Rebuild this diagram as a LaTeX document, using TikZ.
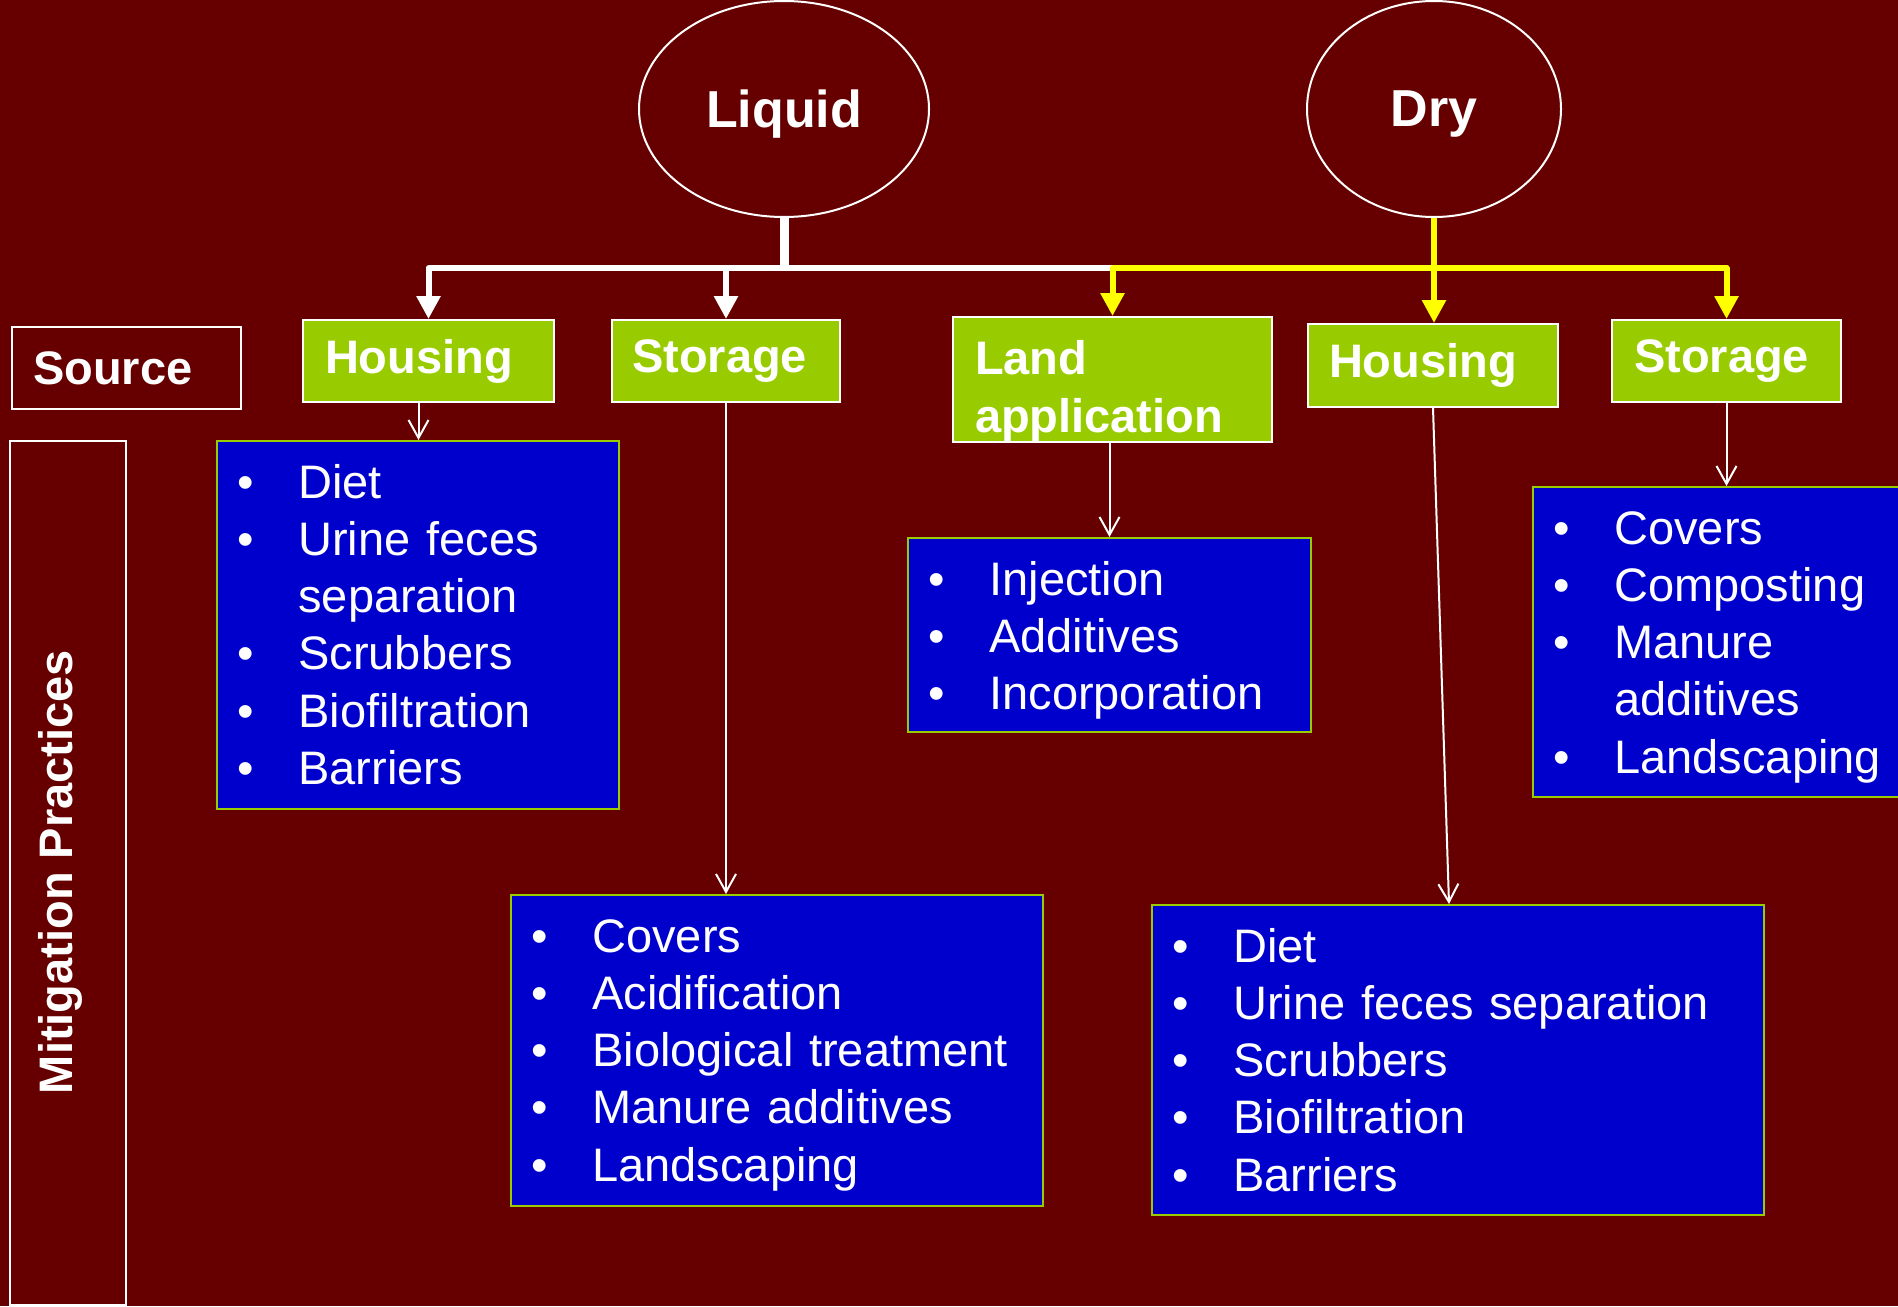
\documentclass[tikz,border=0pt]{standalone}
\usepackage{fontspec}
\setmainfont{Liberation Sans}
\usetikzlibrary{arrows.meta,shapes.geometric,fit}
\definecolor{bgred}{HTML}{660000}
\definecolor{lgreen}{HTML}{99CC00}
\definecolor{lblue}{HTML}{0000CC}
\definecolor{ylw}{HTML}{FFFF00}
\newcommand{\lbul}{\makebox[30.5pt][l]{•}}
\newcommand{\indentitem}{\hspace*{30.5pt}}
\begin{document}
\begin{tikzpicture}[x=0.5pt,y=-0.5pt,
  ovalnode/.style={ellipse, draw=white, line width=1pt, minimum width=145pt, minimum height=108pt, inner sep=0pt, text depth=0pt, text=white, font=\bfseries\fontsize{26}{30}\selectfont},
  titlebox/.style={draw=white, fill=lgreen, line width=1pt, inner sep=0pt, text=white, align=left, font=\bfseries\fontsize{23.5}{29}\selectfont},
  labelbox/.style={draw=white, line width=1pt, inner sep=0pt, text=white, align=left, font=\bfseries\fontsize{23.5}{29}\selectfont},
  listbox/.style={draw=lgreen, fill=lblue, line width=1pt, inner sep=0pt},
  listtext/.style={text=white, inner sep=0pt, align=left, text width=280pt, anchor=base west, font=\fontsize{23.5}{28.65}\selectfont},
  bus/.style={line width=3pt, white, line join=round},
  ybus/.style={line width=3pt, ylw, line join=round},
  tiparr/.style={-{Triangle[width=11.5pt,length=11.5pt]}},
  thinarr/.style={white, line width=1pt, -{Straight Barb[width=10pt,length=9pt]}}
]
\fill[bgred] (0,0) rectangle (1898,1306);
\useasboundingbox (0,0) rectangle (1898,1306);
\clip (0,0) rectangle (1898,1306);

% ovals
\node[ovalnode] (liq) at (784,109) {Liquid};
\node[ovalnode, minimum width=127pt] (dry) at (1434,109) {Dry};

% row labels
\node[labelbox, minimum width=114.5pt, minimum height=41pt, text width=93.5pt] (src) at (126.5,368) {Source};
\node[labelbox, fit={(10,441)(126,1305)}] (mit) {};
\node[text=white, inner sep=0pt, rotate=90, font=\bfseries\fontsize{23.5}{29}\selectfont] (mitt) at (60,872) {Mitigation Practices};

% source boxes
\node[titlebox, minimum width=125.5pt, minimum height=41pt, text width=103.5pt] (LH) at (428.5,361) {Housing};
\node[titlebox, minimum width=114pt, minimum height=41pt, text width=94pt] (LS) at (726,361) {Storage};
\node[titlebox, minimum width=159.5pt, minimum height=62.5pt, text width=137.5pt, text depth=22pt] (Land) at (1112.5,379.5) {Land\\application};
\node[titlebox, minimum width=125pt, minimum height=41.5pt, text width=104pt] (DH) at (1433,365.5) {Housing};
\node[titlebox, minimum width=114.5pt, minimum height=41pt, text width=92.5pt] (DS) at (1726.5,361) {Storage};

% mitigation boxes
\node[listbox, fit={(217,441)(619,809)}] (LHl) {};
\node[listbox, fit={(511,895)(1043,1206)}] (LSl) {};
\node[listbox, fit={(908,538)(1311,732)}] (Landl) {};
\node[listbox, fit={(1152,905)(1764,1215)}] (DHl) {};
\node[listbox, fit={(1533,487)(1930,797)}] (DSl) {};

\node[listtext] (LHt) at (237,498) {\lbul Diet\\ \lbul Urine feces\\ \indentitem separation\\ \lbul Scrubbers\\ \lbul Biofiltration\\ \lbul Barriers};
\node[listtext] (LSt) at (531,952) {\lbul Covers\\ \lbul Acidification\\ \lbul Biological treatment\\ \lbul Manure additives\\ \lbul Landscaping};
\node[listtext] (Landt) at (928,595) {\lbul Injection\\ \lbul Additives\\ \lbul Incorporation};
\node[listtext] (DHt) at (1172,962) {\lbul Diet\\ \lbul Urine feces separation\\ \lbul Scrubbers\\ \lbul Biofiltration\\ \lbul Barriers};
\node[listtext] (DSt) at (1553,544) {\lbul Covers\\ \lbul Composting\\ \lbul Manure\\ \indentitem additives\\ \lbul Landscaping};

% liquid bus (white)
\coordinate (jL) at (784,268);
\draw[bus] (Land.north |- jL) -- (jL);
\draw[bus, tiparr] (jL) -| (LH.north);
\draw[bus, tiparr] (jL) -| (LS.north);
\draw[bus, line width=4.5pt] (liq.south) -- (jL);

% dry bus (yellow)
\coordinate (jD) at (1434,268);
\draw[ybus, tiparr] (jD) -| (Land.north);
\draw[ybus, tiparr] (jD) -| (DS.north);
\draw[ybus, tiparr] (dry.south) -- (dry.south |- DH.north);

% thin arrows
\draw[thinarr] ([xshift=-5pt]LH.south) -- ([xshift=-5pt]LH.south |- LHl.north);
\draw[thinarr] (LS.south) -- (LS.south |- LSl.north);
\draw[thinarr] ([xshift=-1.5pt]Land.south) -- ([xshift=-1.5pt]Land.south |- Landl.north);
\draw[thinarr] (DH.south) -- ([xshift=8pt]DH.south |- DHl.north);
\draw[thinarr] (DS.south) -- (DS.south |- DSl.north);
\end{tikzpicture}
\end{document}
